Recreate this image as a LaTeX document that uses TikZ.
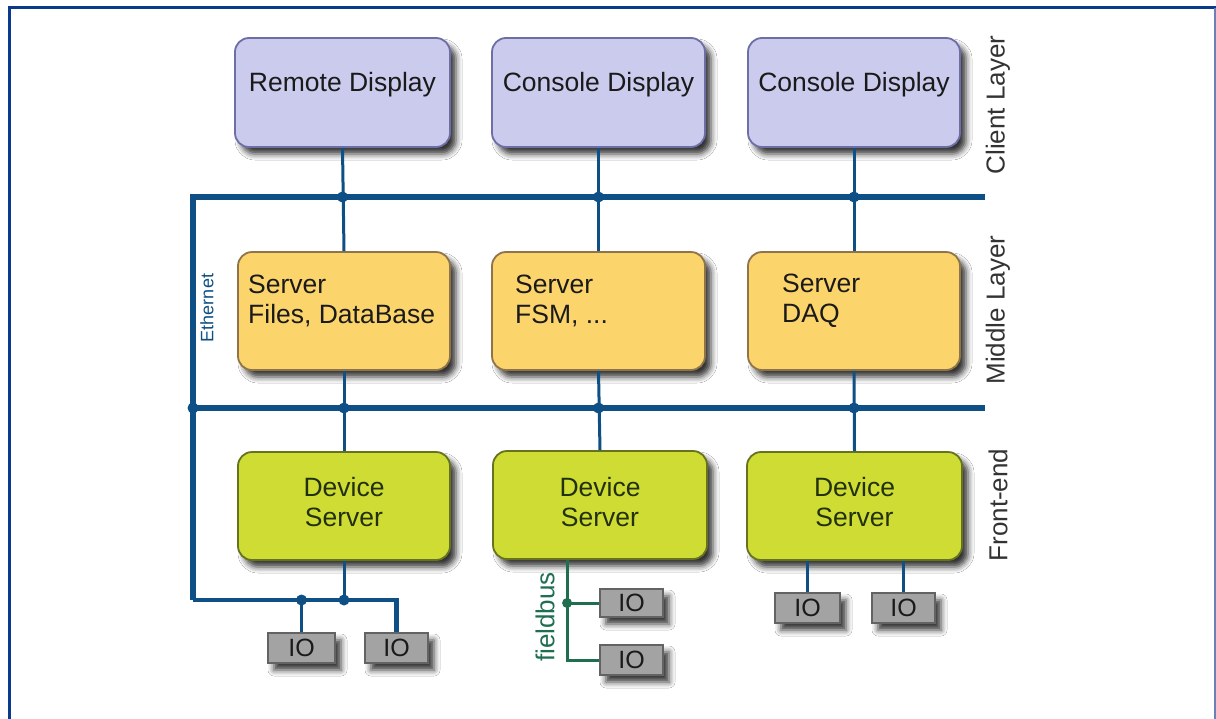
\documentclass[tikz,border=0pt]{standalone}
\usepackage{fontspec}
\setmainfont{Liberation Sans}
\usetikzlibrary{shadows.blur}
\definecolor{framecol}{HTML}{0A3A8C}
\definecolor{framer}{HTML}{6B7FB8}
\definecolor{buscol}{HTML}{0E5085}
\definecolor{fbcol}{HTML}{1F6E50}
\definecolor{clientfill}{HTML}{CBCBEE}
\definecolor{clientdraw}{HTML}{6E6EA6}
\definecolor{midfill}{HTML}{FCD46C}
\definecolor{middraw}{HTML}{8E7448}
\definecolor{devfill}{HTML}{CFDC34}
\definecolor{devdraw}{HTML}{66721E}
\definecolor{iofill}{HTML}{A3A3A3}
\definecolor{iodraw}{HTML}{636363}
\definecolor{txt}{HTML}{1A1A1A}
\definecolor{devtxt}{HTML}{22300C}
\begin{document}
\begin{tikzpicture}[x=1pt,y=-1pt,
  shad/.style={blur shadow={shadow xshift=6pt,shadow yshift=-7pt,shadow blur radius=6pt,shadow opacity=80}},
  boxbase/.style={rounded corners=14pt,line width=1.8pt,inner sep=0pt,shad},
  clientbox/.style={boxbase,fill=clientfill,draw=clientdraw,minimum height=109pt},
  midbox/.style={boxbase,fill=midfill,draw=middraw,minimum height=118pt},
  devbox/.style={boxbase,fill=devfill,draw=devdraw,minimum height=108pt},
  iobox/.style={fill=iofill,draw=iodraw,line width=1.2pt,inner sep=0pt,minimum height=30pt,
     font=\fontsize{25}{28}\selectfont,text=txt,shad},
  lbl/.style={font=\fontsize{26.5}{30}\selectfont,text=txt,inner sep=0pt},
  devlbl/.style={lbl,text=devtxt,align=center},
  midlbl/.style={lbl,align=left,anchor=west},
  layer/.style={font=\fontsize{26}{30}\selectfont,text=black!80,rotate=90,inner sep=0pt},
  bus/.style={draw=buscol,line width=6pt},
  lan/.style={draw=buscol,line width=4.5pt},
  conn/.style={draw=buscol,line width=3pt},
  fb/.style={draw=fbcol,line width=3pt},
  dot/.style={circle,fill=buscol,inner sep=0pt,minimum size=11pt},
  fbdot/.style={circle,fill=fbcol,inner sep=0pt,minimum size=10pt}]
\useasboundingbox (0,0) rectangle (1216,718);
\fill[white] (0,0) rectangle (1216,718);
% frame
\draw[framecol,line width=3pt] (9.5,720) -- (9.5,7.5) -- (1216,7.5);
\draw[framer,line width=2pt] (1215,7.5) -- (1215,720);

% bus coordinates
\coordinate (busTL) at (193,197);
\coordinate (busTR) at (985,197);
\coordinate (busML) at (193,408);
\coordinate (busMR) at (985,408);
\coordinate (busBL) at (193,600);

% boxes
\node[clientbox,minimum width=215pt] (client1) at (342.5,92.5) {};
\node[clientbox,minimum width=213pt] (client2) at (598.5,92.5) {};
\node[clientbox,minimum width=212pt] (client3) at (854,92.5) {};
\node[midbox,minimum width=212pt] (server1) at (344,311) {};
\node[midbox,minimum width=213pt] (server2) at (598.5,311) {};
\node[midbox,minimum width=212pt] (server3) at (854,311) {};
\node[devbox,minimum width=212pt] (dev1) at (344,506) {};
\node[devbox,minimum width=214pt] (dev2) at (600,505) {};
\node[devbox,minimum width=215pt] (dev3) at (854.5,506) {};

% texts
\node[lbl] (t-c1) at (342.5,85) {Remote Display};
\node[lbl] (t-c2) at (598.5,85) {Console Display};
\node[lbl] (t-c3) at (854,85) {Console Display};
\node[midlbl] (t-s1) at (248,301) {Server\\Files, DataBase};
\node[midlbl] (t-s2) at (515,301) {Server\\FSM, ...};
\node[midlbl] (t-s3) at (782,301) {Server\\DAQ};
\node[devlbl] (t-d1) at (344,502) {Device\\Server};
\node[devlbl] (t-d2) at (600,502) {Device\\Server};
\node[devlbl] (t-d3) at (854.5,502) {Device\\Server};

% IO boxes
\node[iobox,minimum width=67pt] (io1) at (301.5,648) {IO};
\node[iobox,minimum width=63pt] (io2) at (396.5,648) {IO};
\node[iobox,minimum width=63pt,minimum height=28pt] (io3) at (631.5,603) {IO};
\node[iobox,minimum width=63pt] (io4) at (631.5,660) {IO};
\node[iobox,minimum width=65pt] (io5) at (807.5,608) {IO};
\node[iobox,minimum width=63pt] (io6) at (903.5,608) {IO};

% buses
\draw[bus] (busTR) -- (busTL) -- (busBL);
\draw[bus] (busML) -- (busMR);
\draw[lan] (busBL) -- (io2.north |- busBL) -- (io2.north);
\draw[conn] (io1.north |- busBL) -- (io1.north);
\draw[conn] (dev1.south) -- (dev1.south |- busBL);

% vertical connectors
\draw[conn] (client1.south) -- (server1.north);
\draw[conn] (client2.south) -- (server2.north);
\draw[conn] (client3.south) -- (server3.north);
\draw[conn] (server1.south) -- (dev1.north);
\draw[conn] (server2.south) -- (dev2.north);
\draw[conn] (server3.south) -- (dev3.north);
\draw[conn] (io5.north |- dev3.south) -- (io5.north);
\draw[conn] (io6.north |- dev3.south) -- (io6.north);

% junction dots
\node[dot] (j1) at (client1.south |- busTL) {};
\node[dot] (j2) at (client2.south |- busTL) {};
\node[dot] (j3) at (client3.south |- busTL) {};
\node[dot] (j4) at (server1.south |- busML) {};
\node[dot] (j5) at (server2.south |- busML) {};
\node[dot] (j6) at (server3.south |- busML) {};
\node[dot] (j7) at (busML) {};
\node[dot] (j8) at (io1.north |- busBL) {};
\node[dot] (j9) at (dev1.south |- busBL) {};

% fieldbus
\coordinate (fbx) at ([xshift=75pt]dev2.south west);
\draw[fb] (fbx) |- (io4.west);
\draw[fb] (fbx |- io3.west) -- (io3.west);
\node[fbdot] (j10) at (fbx |- io3.west) {};
\node[font=\fontsize{26}{30}\selectfont,text=fbcol,rotate=90,inner sep=0pt] (fbl) at (545,617) {fieldbus};

% labels
\node[font=\fontsize{18}{20}\selectfont,text=buscol,rotate=90,inner sep=0pt] (eth) at (207,308) {Ethernet};
\node[layer] (l1) at (998,105) {Client Layer};
\node[layer] (l2) at (998,310) {Middle Layer};
\node[layer] (l3) at (998,505) {Front-end};
\end{tikzpicture}
\end{document}
